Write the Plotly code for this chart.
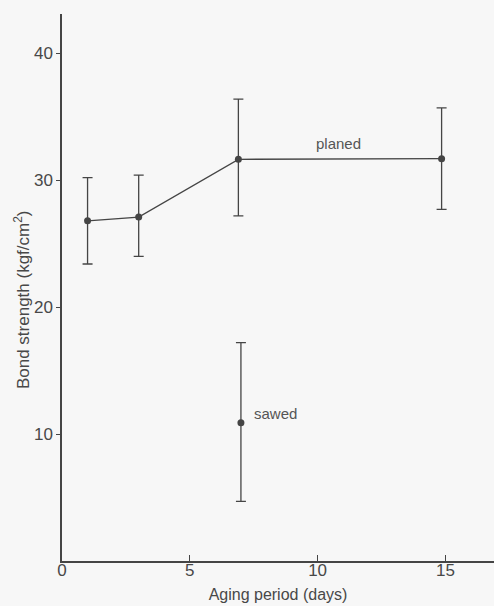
import plotly.graph_objects as go

# data
days_planed = [1, 3, 6.9, 14.85]
planed_mean = [26.8, 27.1, 31.65, 31.7]
planed_hi = [30.2, 30.4, 36.4, 35.7]
planed_lo = [23.4, 24.0, 27.2, 27.7]

days_sawed = [7.0]
sawed_mean = [10.9]
sawed_hi = [17.2]
sawed_lo = [4.7]

x_ticks = [0, 5, 10, 15]
y_ticks = [10, 20, 30, 40]

INK = "#454545"
TXT = "#484848"
BG = "#f7f7f7"
FONT = "Liberation Sans, Arial, sans-serif"

fig = go.Figure()

def add_series(xs, ys, hi, lo, mode):
    fig.add_trace(go.Scatter(
        x=xs, y=ys, mode=mode,
        line=dict(color=INK, width=1.3),
        marker=dict(color=INK, size=7, symbol="circle"),
        error_y=dict(type="data", symmetric=False,
                     array=[h - m for h, m in zip(hi, ys)],
                     arrayminus=[m - l for m, l in zip(ys, lo)],
                     color=INK, thickness=1.3, width=5),
        showlegend=False, hoverinfo="skip"))

add_series(days_planed, planed_mean, planed_hi, planed_lo, "lines+markers")
add_series(days_sawed, sawed_mean, sawed_hi, sawed_lo, "markers")

fig.add_annotation(x=10.8, y=32.9, text="planed", showarrow=False,
                   font=dict(family=FONT, size=15, color="#555"))
fig.add_annotation(x=7.45, y=11.65, text="sawed", showarrow=False, xanchor="left",
                   font=dict(family=FONT, size=15, color="#555"))
# y-axis title
fig.add_annotation(xref="paper", yref="paper", x=0, y=0.477, xshift=-40,
                   xanchor="center", yanchor="middle",
                   text="Bond strength (kgf/cm<sup>2</sup>)", textangle=-90,
                   showarrow=False, font=dict(family=FONT, size=17, color=TXT))

fig.update_layout(
    width=494, height=606,
    margin=dict(l=62, r=0, t=14, b=45),
    paper_bgcolor=BG, plot_bgcolor=BG,
    font=dict(family=FONT, size=15, color=TXT),
)
fig.update_xaxes(range=[0, 16.9], showline=True, linecolor=INK, linewidth=1.5,
                 showgrid=False, zeroline=False, tickvals=x_ticks,
                 ticks="inside", ticklen=6, tickwidth=1.2, tickcolor=INK,
                 tickfont=dict(size=17), ticklabelstandoff=-7,
                 title=dict(text="Aging period (days)", font=dict(size=16), standoff=10))
fig.update_yaxes(range=[0, 43.1], showline=True, linecolor=INK, linewidth=1.5,
                 showgrid=False, zeroline=False, tickvals=y_ticks,
                 ticks="outside", ticklen=4, tickwidth=1.2, tickcolor=INK,
                 tickfont=dict(size=17))

fig.write_html("out.html")
